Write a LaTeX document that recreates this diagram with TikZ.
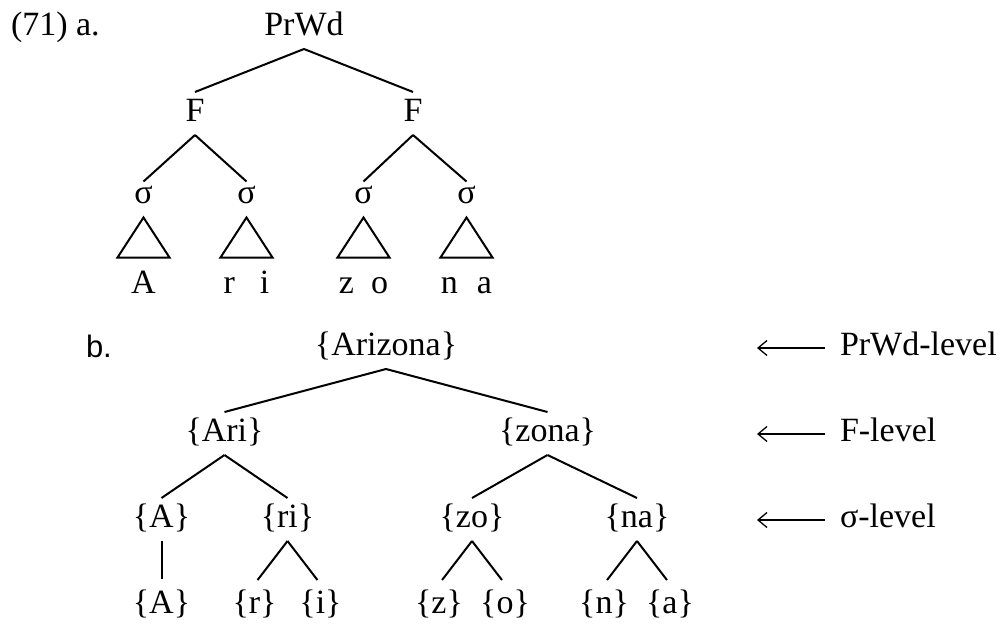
\documentclass[tikz,border=0pt]{standalone}
\usepackage{fontspec}
\setmainfont{Liberation Serif}
\setsansfont{Liberation Sans}
\usetikzlibrary{arrows.meta}

\begin{document}
\begin{tikzpicture}[x=1pt, y=1pt, line width=2pt, parent anchor=south, child anchor=north, level distance=86pt]
		\tikzstyle{every node}=[font=\fontsize{34}{40}\selectfont, inner sep=6pt, text height=22pt, text depth=7pt]
		\tikzstyle{syl}=[text height=15pt]
		\tikzstyle{tri}=[edge from parent path={(\tikzparentnode.south) -- ++(-26,-40) -- ++(52,0) -- cycle}]
		\tikzstyle{lvl}=[anchor=west, inner sep=0pt]
		\tikzstyle{lvarrow}=[-{Straight Barb[length=9pt,width=15pt]}, line width=1.3pt, shorten <=14pt]
		\useasboundingbox (0,0) rectangle (1001,-624);

		\node[anchor=base west, inner sep=0pt] (exa) at (10,-35) {(71) a.};
		\node[anchor=base west, inner sep=0pt, font=\fontsize{31}{36}\sffamily] (exb) at (85,-357) {b.};

		% (a) prosodic tree
		\begin{scope}[level 1/.style={sibling distance=218pt}, level 2/.style={sibling distance=103pt}]
		\node (PrWd) at (304,-27.5) {PrWd}
			child{
				node (Fl) {F}
				child{
					node[syl] (sa) {σ}
					child[tri]{node (wa) {A}}
				}
				child{
					node[syl] (sb) {σ}
					child[tri]{node (wb) {r\hspace{25pt}i}}
				}
			}
			child{
				node (Fr) {F}
				child[xshift=2pt]{
					node[syl] (sc) {σ}
					child[tri]{node (wc) {z\hspace{17pt}o}}
				}
				child[xshift=2pt]{
					node[syl] (sd) {σ}
					child[tri]{node (wd) {n\hspace{19pt}a}}
				}
			};
		\end{scope}

		% (b) levels of the word
		\begin{scope}[level 1/.style={sibling distance=323pt}, level 2/.style={sibling distance=126pt},
			level 3/.style={sibling distance=66pt, edge from parent/.style={draw, shorten >=5pt}}]
		\node (Ariz) at (386,-347.5) {\{Arizona\}}
			child{
				node (Ari) {\{Ari\}}
				child{
					node (A) {\{A\}}
					child{node (Aa) {\{A\}}}
				}
				child{
					node (ri) {\{ri\}}
					child{node (r) {\{r\}}}
					child{node (i) {\{i\}}}
				}
			}
			child{
				node (zona) {\{zona\}}
				child[sibling distance=165pt, xshift=7pt]{
					node (zo) {\{zo\}}
					child{node (z) {\{z\}}}
					child{node (o) {\{o\}}}
				}
				child[sibling distance=165pt, xshift=7pt]{
					node (na) {\{na\}}
					child{node (n) {\{n\}}}
					child{node (a) {\{a\}}}
				}
			};
		\end{scope}

		\node[lvl] (lvPrWd) at (839,-348) {PrWd-level};
		\node[lvl] (lvF) at (839,-434) {F-level};
		\node[lvl] (lvsyl) at (839,-520) {σ-level};
		\coordinate (tPrWd) at (757,-348);
		\coordinate (tF) at (757,-434);
		\coordinate (tsyl) at (757,-520);
		\draw[lvarrow] (lvPrWd) -- (tPrWd);
		\draw[lvarrow] (lvF) -- (tF);
		\draw[lvarrow] (lvsyl) -- (tsyl);
\end{tikzpicture}
\end{document}
